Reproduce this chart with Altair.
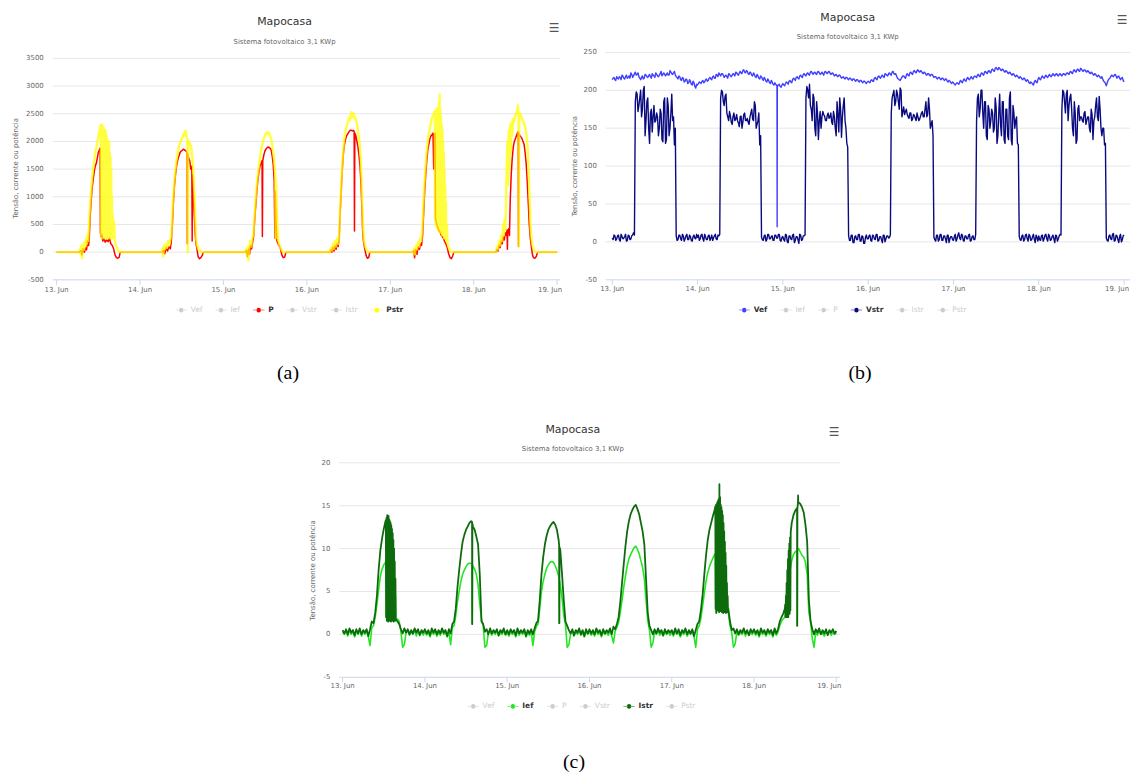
import altair as alt
import pandas as pd

# ---------------------------------------------------------------- text / labels
TITLE = "Mapocasa"
SUBTITLE = "Sistema fotovoltaico 3,1 KWp"
Y_TITLE = "Tensão, corrente ou potência"
CAPTIONS = ["(a)", "(b)", "(c)"]
SERIES_NAMES = ["Vef", "Ief", "P", "Vstr", "Istr", "Pstr"]
TICK_HOURS = [0, 24, 48, 72, 96, 120, 144]
TICK_LABELS = ["13. Jun", "14. Jun", "15. Jun", "16. Jun", "17. Jun", "18. Jun", "19. Jun"]
HALF_HOURS = [i * 0.5 for i in range(48)]
QUARTER_HOURS = [i * 0.5 + 0.25 for i in range(48)]

Y_TICKS_A = [-500, 0, 500, 1000, 1500, 2000, 2500, 3000, 3500]
Y_TICKS_B = [-50, 0, 50, 100, 150, 200, 250]
Y_TICKS_C = [-5, 0, 5, 10, 15, 20]

# ---------------------------------------------------------------- panel (a): P and Pstr, (hour of day, W), one list per day 13..18 Jun
P_DAYS = [
    [(0, 0), (6.5, 0), (7.0, 30), (7.3, -50), (7.6, 60), (8.0, 0), (8.3, 80), (8.6, 40), (8.9, 200), (9.2, 120),
     (9.4, 270), (9.6, 600), (9.9, 900), (10.2, 1150), (10.5, 1300), (10.8, 1450), (11.1, 1550), (11.4, 1600),
     (11.7, 1700), (12.0, 1800), (12.3, 1850), (12.5, 1880), (12.6, 350), (12.8, 280), (13.0, 320), (13.3, 200),
     (13.6, 250), (14.0, 180), (14.4, 220), (14.8, 190), (15.2, 250), (15.6, 150), (16.0, 120), (16.4, 60),
     (16.8, -50), (17.2, -100), (17.6, -110), (18.0, -90), (18.3, 0)],
    [(6.5, 0), (6.8, 40), (7.1, -30), (7.5, 80), (7.9, 20), (8.3, 100), (8.7, 60), (9.0, 200), (9.3, 500),
     (9.6, 900), (9.9, 1200), (10.2, 1400), (10.5, 1550), (10.8, 1650), (11.1, 1720), (11.4, 1780), (11.7, 1820),
     (12.0, 1830), (12.3, 1850), (12.6, 1860), (12.9, 1840), (13.2, 1830), (13.5, 1800), (13.6, 150), (13.7, 1780),
     (14.0, 1700), (14.3, 1650), (14.6, 1500), (14.9, 1550), (15.0, 200), (15.1, 1400), (15.3, 1100), (15.6, 700),
     (15.9, 300), (16.1, 150), (16.4, 50), (16.7, -80), (17.1, -120), (17.5, -100), (17.9, -60), (18.2, 0)],
    [(6.3, 0), (6.6, 30), (6.9, -80), (7.2, 50), (7.5, -40), (7.8, 120), (8.1, 60), (8.4, 180), (8.7, 300),
     (9.0, 600), (9.3, 850), (9.6, 1100), (9.9, 1300), (10.2, 1450), (10.5, 1550), (10.8, 1600), (11.1, 1650),
     (11.2, 280), (11.3, 1650), (11.6, 1750), (11.9, 1820), (12.2, 1860), (12.5, 1880), (12.8, 1900), (13.1, 1890),
     (13.4, 1880), (13.7, 1850), (14.0, 1750), (14.3, 1600), (14.6, 1300), (14.8, 250), (14.9, 1100), (15.1, 600),
     (15.4, 200), (15.7, 150), (16.0, 120), (16.4, 60), (16.8, -50), (17.2, -100), (17.6, -90), (18.0, 0)],
    [(6.6, 0), (6.9, 40), (7.2, 0), (7.5, 90), (7.8, 20), (8.1, 120), (8.4, 50), (8.7, 150), (9.0, 100),
     (9.3, 250), (9.5, 600), (9.8, 1000), (10.1, 1400), (10.4, 1700), (10.7, 1900), (11.0, 2000), (11.3, 2080),
     (11.6, 2120), (11.9, 2150), (12.2, 2180), (12.5, 2200), (12.8, 2200), (13.1, 2190), (13.4, 2200), (13.6, 2180),
     (13.7, 380), (13.8, 2150), (14.1, 2100), (14.4, 2000), (14.7, 1900), (15.0, 1750), (15.3, 1550), (15.6, 1200),
     (15.9, 700), (16.1, 300), (16.4, 150), (16.7, 50), (17.0, -50), (17.4, -110), (17.8, -100), (18.1, 0)],
    [(6.5, 0), (6.8, 30), (7.0, -100), (7.3, 50), (7.7, -40), (8.0, 100), (8.4, 50), (8.7, 150), (9.0, 120),
     (9.3, 300), (9.6, 700), (9.9, 1100), (10.2, 1400), (10.5, 1650), (10.8, 1850), (11.1, 1950), (11.4, 2050),
     (11.7, 2100), (12.0, 2120), (12.3, 2150), (12.5, 1500), (12.6, 2100), (12.9, 2150), (13.0, 600), (13.2, 550),
     (13.5, 480), (13.8, 420), (14.1, 380), (14.4, 350), (14.7, 300), (15.0, 280), (15.3, 250), (15.6, 200),
     (16.0, 150), (16.4, 80), (16.8, -30), (17.2, -100), (17.6, -120), (18.0, -60), (18.3, 0)],
    [(6.4, 0), (6.7, 50), (7.0, 20), (7.3, 120), (7.6, 80), (7.9, 200), (8.2, 150), (8.5, 280), (8.8, 220),
     (9.1, 350), (9.4, 300), (9.6, 400), (9.7, 50), (9.8, 380), (10.1, 420), (10.3, 300), (10.5, 900), (10.8, 1400),
     (11.1, 1700), (11.4, 1900), (11.7, 2000), (12.0, 2050), (12.3, 2100), (12.6, 2150), (12.8, 2180), (12.9, 100),
     (13.0, 2150), (13.3, 2100), (13.6, 2080), (13.9, 2050), (14.2, 2000), (14.5, 1950), (14.8, 1800), (15.1, 1600),
     (15.4, 1300), (15.7, 900), (16.0, 500), (16.3, 250), (16.6, 100), (16.9, -40), (17.2, -100), (17.6, -110),
     (18.0, -80), (18.4, 0)],
]
P_END = 0

PSTR_DAYS = [
    [(0, 0), (6.5, 0), (6.7, 60), (6.9, -40), (7.1, 120), (7.3, -110), (7.5, 80), (7.7, 150), (7.9, 40), (8.1, 180),
     (8.3, 100), (8.5, 250), (8.7, 150), (8.9, 320), (9.1, 200), (9.3, 450), (9.5, 700), (9.8, 1000), (10.1, 1250),
     (10.4, 1450), (10.7, 1600), (11.0, 1750), (11.3, 1850), (11.6, 1950), (11.9, 2050), (12.2, 2150), (12.5, 2250),
     (12.7, 2300), (12.8, 300), (12.9, 2250), (13.0, 400), (13.1, 2300), (13.2, 250), (13.3, 2200), (13.4, 350),
     (13.5, 2250), (13.6, 300), (13.7, 2150), (13.8, 250), (13.9, 2100), (14.0, 400), (14.1, 2200), (14.2, 300),
     (14.3, 2100), (14.4, 250), (14.5, 2050), (14.6, 350), (14.7, 2000), (14.8, 300), (14.9, 1950), (15.0, 250),
     (15.1, 2000), (15.2, 400), (15.3, 1800), (15.4, 300), (15.5, 1700), (15.6, 250), (15.7, 1500), (15.8, 300),
     (15.9, 1000), (16.0, 250), (16.1, 700), (16.3, 300), (16.5, 550), (16.7, 250), (16.9, 150), (17.2, 100),
     (17.5, 50), (17.8, 20), (18.2, 0)],
    [(6.3, 0), (6.5, 60), (6.7, -80), (6.9, 120), (7.2, 50), (7.5, 150), (7.8, 80), (8.1, 200), (8.4, 120),
     (8.7, 220), (9.0, 300), (9.3, 700), (9.6, 1050), (9.9, 1300), (10.2, 1500), (10.5, 1650), (10.8, 1780),
     (11.1, 1880), (11.4, 1950), (11.7, 2000), (12.0, 2050), (12.3, 2080), (12.6, 2150), (12.9, 2100), (13.1, 2200),
     (13.4, 2080), (13.6, 2050), (13.75, 0), (13.85, 1980), (14.1, 2000), (14.4, 1950), (14.7, 1900), (15.0, 1750),
     (15.3, 1500), (15.6, 1100), (15.9, 600), (16.1, 250), (16.4, 120), (16.8, 50), (17.2, 30), (17.6, 0)],
    [(6.3, 0), (6.5, 50), (6.8, -60), (7.0, 100), (7.2, -150), (7.4, 80), (7.7, 200), (8.0, 100), (8.3, 250),
     (8.6, 300), (8.9, 600), (9.2, 900), (9.5, 1150), (9.8, 1350), (10.1, 1500), (10.4, 1650), (10.7, 1800),
     (11.0, 1900), (11.3, 1980), (11.6, 2050), (11.9, 2100), (12.2, 2150), (12.5, 2130), (12.8, 2170), (13.1, 2150),
     (13.4, 2100), (13.7, 2050), (14.0, 1950), (14.3, 1800), (14.6, 1650), (14.9, 1400), (15.0, 250), (15.1, 1300),
     (15.3, 900), (15.5, 500), (15.7, 250), (16.0, 150), (16.4, 80), (16.8, 30), (17.2, 0)],
    [(6.6, 0), (6.9, 80), (7.2, 30), (7.5, 150), (7.8, 60), (8.1, 200), (8.4, 100), (8.7, 250), (9.0, 150),
     (9.3, 300), (9.5, 700), (9.8, 1100), (10.1, 1500), (10.4, 1800), (10.7, 2000), (11.0, 2150), (11.3, 2250),
     (11.6, 2300), (11.9, 2380), (12.2, 2420), (12.4, 2380), (12.5, 2470), (12.7, 2420), (12.8, 2530), (13.0, 2450),
     (13.1, 2500), (13.3, 2440), (13.4, 2510), (13.6, 2430), (13.7, 2460), (14.0, 2400), (14.3, 2350), (14.6, 2250),
     (14.9, 2100), (15.2, 1950), (15.5, 1700), (15.8, 1200), (16.1, 600), (16.3, 300), (16.6, 150), (16.9, 80),
     (17.3, 30), (17.7, 0)],
    [(6.5, 0), (6.8, 60), (7.1, -40), (7.4, 120), (7.7, 50), (8.0, 180), (8.3, 100), (8.6, 250), (8.9, 200),
     (9.2, 400), (9.5, 800), (9.8, 1200), (10.1, 1500), (10.4, 1750), (10.7, 1950), (11.0, 2100), (11.3, 2200),
     (11.6, 2300), (11.9, 2400), (12.2, 2450), (12.5, 2500), (12.8, 2550), (12.9, 600), (13.0, 2500), (13.1, 500),
     (13.2, 2550), (13.3, 450), (13.4, 2600), (13.5, 500), (13.6, 2450), (13.7, 400), (13.8, 2500), (13.9, 450),
     (14.0, 2700), (14.1, 400), (14.2, 2850), (14.3, 350), (14.4, 2600), (14.5, 400), (14.6, 2450), (14.7, 350),
     (14.8, 2300), (14.9, 300), (15.0, 2200), (15.1, 350), (15.2, 2000), (15.3, 300), (15.4, 1800), (15.5, 250),
     (15.6, 1500), (15.7, 300), (15.8, 1200), (15.9, 250), (16.0, 900), (16.1, 200), (16.3, 500), (16.5, 150),
     (16.8, 80), (17.2, 30), (17.6, 0)],
    [(6.4, 0), (6.7, 100), (7.0, 50), (7.3, 200), (7.6, 120), (7.9, 300), (8.2, 200), (8.5, 500), (8.7, 300),
     (8.9, 600), (9.1, 400), (9.3, 900), (9.5, 1500), (9.7, 2000), (9.9, 1200), (10.1, 2200), (10.3, 1500),
     (10.5, 2300), (10.7, 1800), (10.9, 2350), (11.1, 2100), (11.3, 2400), (11.6, 2350), (11.9, 2450), (12.2, 2500),
     (12.5, 2550), (12.7, 2650), (12.9, 2500), (13.0, 100), (13.1, 2450), (13.4, 2500), (13.7, 2450), (14.0, 2400),
     (14.3, 2350), (14.6, 2300), (14.9, 2250), (15.2, 2100), (15.5, 1900), (15.8, 1500), (16.1, 900), (16.4, 400),
     (16.7, 200), (17.0, 100), (17.4, 30), (17.8, 0)],
]
PSTR_END = 0

# ---------------------------------------------------------------- panel (b): Vef and Vstr, V, readings on the half hour (:00/:30) and quarter (:15/:45)
VEF_DAYS = [
    [214, 217, 213, 216, 218, 214, 219, 215, 220, 217, 216, 221, 219, 224, 221, 218, 214, 219, 216, 220,
     217, 221, 216, 220, 217, 221, 218, 222, 219, 223, 219, 223, 220, 224, 221, 225, 218, 215, 218, 213,
     216, 212, 214, 210, 212, 207, 210, 203],
    [207, 211, 209, 213, 211, 215, 213, 217, 214, 219, 216, 220, 223, 219, 222, 217, 220, 216, 221, 218,
     222, 219, 223, 220, 225, 222, 227, 223, 225, 221, 223, 219, 221, 217, 219, 215, 218, 213, 215, 211,
     213, 209, 211, 207, 208, 205, 208, 204],
    [209, 206, 211, 208, 213, 210, 216, 213, 218, 215, 220, 217, 222, 219, 223, 220, 225, 221, 224, 221,
     225, 221, 224, 220, 225, 222, 225, 221, 223, 219, 221, 218, 220, 216, 218, 215, 217, 214, 216, 213,
     215, 212, 214, 211, 213, 210, 212, 209],
    [212, 210, 214, 212, 217, 214, 219, 216, 220, 217, 221, 219, 223, 220, 225, 221, 219, 215, 213, 217,
     219, 216, 222, 219, 224, 221, 226, 223, 227, 224, 225, 222, 223, 220, 222, 219, 221, 217, 218, 215,
     217, 214, 216, 213, 215, 211, 212, 209],
    [210, 207, 210, 208, 213, 210, 215, 212, 217, 214, 218, 215, 219, 217, 221, 218, 223, 220, 225, 222,
     226, 223, 228, 225, 230, 227, 229, 226, 227, 224, 225, 222, 223, 220, 221, 218, 219, 216, 217, 214,
     216, 212, 213, 209, 210, 207, 213, 210],
    [217, 214, 219, 216, 220, 217, 221, 218, 222, 219, 222, 219, 222, 219, 222, 220, 223, 221, 225, 222,
     227, 224, 228, 225, 228, 225, 227, 224, 225, 222, 223, 220, 221, 218, 219, 216, 215, 211, 206, 213,
     216, 220, 218, 221, 216, 219, 214, 217],
]
VEF_QUARTERS = [
    [216, 214, 218, 215, 217, 220, 216, 218, 216, 219, 223, 217, 222, 220, 223, 216, 217, 215, 221, 218,
     219, 218, 222, 219, 223, 219, 220, 225, 221, 221, 221, 220, 226, 222, 223, 220, 217, 219, 214, 217,
     211, 215, 209, 214, 208, 212, 205, 208],
    [209, 210, 212, 210, 214, 212, 216, 215, 218, 216, 221, 218, 221, 222, 220, 219, 218, 222, 219, 220,
     221, 224, 221, 223, 223, 226, 224, 226, 222, 224, 220, 223, 218, 221, 216, 219, 215, 217, 212, 215,
     210, 213, 208, 210, 206, 207, 205, 207],
    [207, 209, 210, 212, 211, 214, 215, 217, 216, 219, 218, 221, 220, 222, 221, 224, 223, 223, 222, 224,
     223, 222, 222, 224, 223, 224, 223, 222, 221, 220, 219, 220, 218, 217, 216, 217, 215, 216, 214, 215,
     213, 214, 212, 213, 211, 212, 210, 211],
    [211, 213, 212, 216, 215, 218, 217, 219, 218, 222, 220, 222, 221, 224, 222, 222, 216, 214, 215, 219,
     217, 220, 220, 223, 222, 225, 224, 226, 225, 226, 223, 224, 221, 222, 220, 221, 219, 218, 216, 217,
     215, 216, 214, 215, 212, 213, 210, 211],
    [208, 209, 209, 211, 211, 213, 213, 215, 215, 216, 216, 218, 218, 220, 219, 222, 221, 224, 223, 225,
     224, 227, 226, 229, 228, 230, 227, 228, 225, 226, 223, 224, 221, 222, 219, 220, 217, 218, 215, 216,
     213, 214, 210, 211, 208, 211, 211, 214],
    [215, 217, 217, 218, 218, 219, 219, 220, 220, 221, 220, 221, 220, 221, 221, 222, 222, 224, 223, 226,
     225, 227, 226, 229, 226, 227, 225, 226, 223, 224, 221, 222, 219, 220, 217, 218, 212, 209, 210, 215,
     218, 219, 220, 219, 218, 216, 216, 213],
]
VEF_DETAIL = {1: [[(22.35, 207), (22.4, 20), (22.45, 206)]]}
VEF_END = 211

VSTR_DAYS = [
    [5, 9, 2, 8, 3, 10, 4, 7, 1, 9, 3, 8, 12, 185, 195, 180, 200, 175, 205, 160,
     190, 130, 175, 165, 158, 170, 140, 175, 135, 185, 130, 190, 140, 170, 160, 128, 8, 3, 9, 2,
     8, 4, 10, 3, 7, 1, 9, 4],
    [6, 2, 9, 4, 10, 3, 8, 2, 9, 5, 10, 3, 8, 190, 198, 180, 195, 165, 172, 158,
     166, 160, 168, 157, 165, 150, 168, 160, 163, 155, 170, 162, 185, 150, 160, 128, 6, 2, 9, 3,
     10, 4, 8, 2, 9, 5, 10, 1],
    [7, 1, 9, -1, 8, 3, 10, 2, 7, -2, 9, 3, 8, 190, 200, 208, 175, 195, 150, 185,
     135, 172, 165, 168, 160, 167, 163, 170, 155, 165, 140, 168, 190, 138, 180, 160, 130, 8, 2, 9,
     -1, 8, 3, 10, 1, 7, -2, 9],
    [4, 9, 1, 8, 3, 10, 2, 7, -1, 9, 4, 8, 6, 170, 195, 180, 200, 185, 203, 165,
     178, 172, 168, 163, 170, 162, 167, 160, 165, 162, 170, 165, 175, 165, 190, 150, 160, 6, 1, 9,
     3, 10, 2, 8, -1, 9, 4, 7],
    [2, 10, 4, 12, 3, 9, 1, 8, 4, 10, 2, 8, 3, 160, 195, 175, 200, 150, 185, 135,
     175, 160, 170, 150, 178, 140, 195, 140, 185, 130, 175, 135, 198, 128, 170, 160, 130, 7, 2, 9,
     3, 10, 1, 8, 3, 10, -1, 6],
    [8, 2, 9, 4, 10, 1, 8, 3, 9, -1, 8, 4, 10, 175, 198, 170, 200, 180, 195, 150,
     185, 130, 175, 160, 165, 158, 172, 160, 165, 145, 168, 160, 180, 165, 192, 150, 150, 128, 5, 1,
     9, 3, 11, 2, 8, -1, 10, 3],
]
VSTR_QUARTERS = [
    [3, 8, 4, 9, 1, 7, 5, 10, 2, 8, 4, 9, 9, 198, 172, 190, 165, 200, 140, 185,
     150, 170, 145, 180, 160, 165, 150, 170, 132, 190, 135, 180, 150, 195, 165, 150, 2, 9, 4, 10,
     1, 8, 3, 9, 2, 7, 5, 10],
    [9, 4, 10, 1, 7, 3, 9, 5, 2, 8, 4, 9, 10, 200, 185, 192, 170, 160, 166, 155,
     170, 162, 160, 152, 166, 158, 170, 160, 158, 165, 175, 160, 180, 155, 170, 140, 3, 8, 1, 10,
     4, 7, 2, 9, 5, 10, 2, 6],
    [3, 10, 0, 8, 4, 9, -1, 7, 3, 10, 2, 8, 9, 205, 190, 180, 160, 190, 140, 170,
     160, 150, 172, 166, 160, 170, 165, 158, 172, 150, 185, 145, 175, 165, 190, 150, 125, 2, 9, -1,
     7, 3, 10, 1, 8, -2, 6, 4],
    [8, 2, 9, 4, 10, 1, 7, 3, 9, 0, 8, 5, 9, 190, 200, 185, 195, 175, 200, 172,
     168, 175, 165, 170, 160, 168, 163, 170, 160, 166, 172, 165, 185, 168, 175, 155, 140, 3, 9, 1,
     10, 2, 8, 4, 9, -1, 7, 3],
    [7, 1, 9, 5, 10, 2, 8, 4, 9, 1, 7, 3, 10, 190, 165, 200, 170, 185, 140, 180,
     150, 175, 145, 190, 130, 170, 155, 185, 135, 175, 140, 190, 135, 180, 150, 165, 128, 3, 8, 1,
     9, 4, 10, 2, 7, 3, 9, 1],
    [3, 8, 1, 9, 4, 10, 2, 7, 4, 9, 1, 8, 9, 200, 185, 195, 160, 190, 175, 140,
     170, 135, 180, 165, 160, 170, 155, 165, 150, 175, 135, 165, 190, 160, 175, 140, 150, 130, 2, 8,
     4, 10, 1, 9, 3, 7, 0, 8],
]
VSTR_END = 9

# ---------------------------------------------------------------- panel (c): Ief and Istr, A, half-hour readings + detailed stretches
IEF_DAYS = [
    [0.3, 0.0, 0.4, -0.2, 0.5, 0.0, 0.3, -0.3, 0.4, 0.0, 0.5, -0.2, 0.3, 0.0, 0.4, -0.3, -1.3, 0.8, 1.0, 2.0,
     3.5, 5.2, 6.8, 7.6, 8.1, 8.4, 8.5, 8.3, 8.0, 7.5, 6.5, 2.0, 1.8, 1.5, 0.3, -1.5, -1.2, 0.2, 0.4, -0.1,
     0.3, 0.0, 0.5, -0.2, 0.4, 0.0, 0.3, -0.1],
    [0.3, -0.1, 0.2, -0.3, 0.4, 0.0, 0.3, -0.2, 0.2, -0.1, 0.4, 0.0, 0.2, -0.3, 0.3, -1.2, 0.8, 1.0, 2.2, 3.8,
     5.0, 6.2, 7.0, 7.5, 7.9, 8.2, 8.3, 8.3, 8.0, 7.6, 7.0, 5.8, 3.5, 1.8, 1.0, -1.5, -1.3, 0.2, 0.3, -0.1,
     0.3, 0.0, 0.4, -0.2, 0.2, 0.0, 0.4, -0.1],
    [0.2, -0.2, 0.3, 0.0, 0.2, -0.3, 0.4, -0.1, 0.3, 0.0, 0.3, -0.3, 0.2, -0.1, 0.3, -1.3, 0.3, 0.9, 1.2, 3.0,
     5.0, 6.2, 7.0, 7.7, 8.1, 8.4, 8.5, 8.4, 8.0, 7.5, 6.8, 5.8, 4.2, 2.2, 1.2, -1.5, -1.2, 0.1, 0.3, -0.2,
     0.3, 0.0, 0.4, -0.1, 0.2, -0.3, 0.3, 0.0],
    [0.3, -0.1, 0.2, -0.2, 0.4, 0.0, 0.2, -0.3, 0.3, 0.0, 0.2, -0.1, 0.4, -0.2, -1.0, 0.4, 0.8, 1.4, 2.6, 4.0,
     5.5, 6.8, 8.0, 8.8, 9.3, 9.7, 10.1, 10.3, 9.9, 9.4, 8.6, 7.8, 6.5, 4.0, 1.6, 0.5, -1.5, -1.0, 0.3, 0.0,
     0.4, -0.1, 0.2, -0.2, 0.3, 0.0, 0.2, -0.1],
    [0.2, -0.2, 0.4, 0.0, 0.3, -0.3, 0.2, 0.0, 0.4, -0.2, 0.2, 0.0, 0.3, -0.3, -1.5, 0.6, 1.0, 1.9, 3.3, 4.8,
     6.2, 7.2, 7.9, 8.4, 8.9, 9.3, 9.5, 9.6, 9.3, 9.0, 8.3, 6.8, 4.5, 2.5, 1.0, 0.2, -1.5, -1.1, 0.3, -0.1,
     0.2, 0.0, 0.4, -0.2, 0.3, -0.1, 0.2, 0.0],
    [0.3, -0.1, 0.2, -0.3, 0.4, 0.0, 0.2, -0.2, 0.3, 0.0, 0.2, -0.3, 0.4, -0.1, 0.3, 1.0, 1.5, 1.8, 2.0, 4.0,
     6.0, 7.5, 8.6, 9.3, 9.6, 9.8, 10.0, 9.6, 9.2, 9.0, 8.4, 7.0, 2.5, 1.5, -0.5, -1.5, 0.3, -0.1, 0.4, 0.0,
     0.2, -0.2, 0.3, 0.0, 0.4, -0.1, 0.2, 0.0],
]
IEF_DETAIL = {
    0: [[(12.6, 8.4), (12.7, 2), (12.8, 8.5), (12.9, 1.6), (13.0, 8.6), (13.1, 2.2), (13.2, 8.5), (13.3, 1.5),
         (13.4, 8.4), (13.5, 3), (13.6, 8.3), (13.7, 1.6), (13.8, 8.2), (13.9, 2), (14.0, 8.0), (14.1, 1.5),
         (14.2, 7.8), (14.3, 2.5), (14.4, 7.6), (14.5, 1.6), (14.6, 7.3), (14.7, 2), (14.8, 7), (14.9, 1.5),
         (15.0, 6.5), (15.1, 2), (15.2, 5.5), (15.3, 1.6), (15.4, 4.5), (15.5, 1.8)]],
    1: [[(13.75, 8.3), (13.8, 1.2), (13.85, 8.1)]],
    2: [[(15.15, 6.4), (15.2, 1.3), (15.25, 6.3)]],
    4: [[(12.7, 9.4), (12.8, 3), (12.9, 9.5), (13.0, 2.5), (13.1, 9.5), (13.2, 3.5), (13.3, 9.6), (13.4, 2.8),
         (13.5, 9.7), (13.6, 3.2), (13.7, 9.6), (13.8, 2.6), (13.9, 9.5), (14.0, 3), (14.1, 9.4), (14.2, 2.7),
         (14.3, 9.2), (14.4, 3.3), (14.5, 9.0), (14.6, 2.6), (14.7, 8.8), (14.8, 3), (14.9, 8.5), (15.0, 2.5),
         (15.1, 8.0), (15.2, 3.2), (15.3, 7.4), (15.4, 2.6), (15.5, 6.8), (15.6, 3), (15.7, 5.9), (15.8, 2.5),
         (15.9, 5.0), (16.0, 3), (16.1, 3.8), (16.2, 2.6), (16.3, 3.0), (16.4, 2.5)]],
    5: [[(12.55, 9.7), (12.6, 1.0), (12.65, 9.8)]],
}
IEF_END = 0.2

ISTR_DAYS = [
    [0.5, 0.1, 0.6, 0.0, 0.7, 0.2, 0.5, -0.1, 0.6, 0.1, 0.7, 0.0, 0.5, 0.2, 0.6, -0.2, 0.6, 1.5, 1.3, 2.5,
     4.5, 7.5, 9.8, 11.2, 12.3, 13.2, 13.8, 13.5, 13, 12, 10, 1.8, 1.5, 1.2, 0.6, 0.1, 0.7, 0.2, 0.6, 0.0,
     0.5, 0.1, 0.7, 0.2, 0.6, -0.1, 0.5, 0.2],
    [0.6, 0.1, 0.5, -0.1, 0.7, 0.2, 0.6, 0.0, 0.5, 0.1, 0.7, 0.2, 0.5, -0.2, 0.6, 0.1, 1.2, 1.5, 3.0, 5.5,
     7.5, 9.3, 10.8, 11.6, 12.2, 12.6, 13.0, 13.2, 12.6, 12.2, 11.4, 10.5, 7, 1.5, 1.2, 0.3, 0.6, 0.0, 0.7, 0.1,
     0.5, 0.2, 0.6, -0.1, 0.5, 0.2, 0.7, 0.0],
    [0.5, 0.0, 0.6, 0.2, 0.5, -0.1, 0.7, 0.1, 0.5, 0.2, 0.6, -0.2, 0.5, 0.1, 0.6, 0.0, 0.7, 1.3, 1.6, 4.0,
     7.0, 9.0, 10.5, 11.5, 12.2, 12.6, 12.9, 13.1, 12.8, 12.2, 11.0, 9.8, 7.0, 4.0, 1.5, 1.0, 0.5, 0.1, 0.6, -0.1,
     0.5, 0.2, 0.7, 0.0, 0.5, -0.2, 0.6, 0.1],
    [0.6, 0.1, 0.5, 0.0, 0.7, 0.2, 0.5, -0.1, 0.6, 0.1, 0.5, 0.2, 0.7, 0.0, 0.9, 0.6, 1.2, 2.0, 3.8, 6.0,
     8.2, 10.3, 12.0, 13.2, 14.0, 14.5, 14.9, 15.1, 14.6, 14.0, 13.0, 12.0, 10.5, 6.5, 2.5, 1.0, 0.5, 0.0, 0.6, 0.1,
     0.7, 0.2, 0.5, -0.1, 0.6, 0.1, 0.5, 0.2],
    [0.5, 0.0, 0.7, 0.1, 0.6, -0.1, 0.5, 0.2, 0.7, 0.0, 0.5, 0.1, 0.6, -0.2, 0.5, 1.2, 1.5, 2.8, 4.6, 7.0,
     9.2, 11.0, 12.2, 13.0, 13.8, 14.5, 15.0, 15.5, 15.2, 14.6, 13.5, 11.0, 7.0, 3.0, 1.5, 0.5, 0.7, 0.1, 0.6, 0.0,
     0.5, 0.2, 0.7, 0.1, 0.5, -0.1, 0.6, 0.2],
    [0.6, 0.1, 0.5, -0.1, 0.7, 0.2, 0.5, 0.0, 0.6, 0.2, 0.5, -0.1, 0.7, 0.1, 0.6, 1.5, 2.0, 2.4, 3.0, 6.0,
     9.5, 11.5, 13.0, 13.9, 14.4, 14.7, 15.4, 15.2, 14.8, 14.2, 12.8, 10.8, 4.0, 1.5, 0.6, 0.0, 0.6, 0.2, 0.7, 0.0,
     0.5, 0.1, 0.6, -0.1, 0.5, 0.2, 0.6, 0.1],
]
ISTR_DETAIL = {
    0: [[(12.6, 13.3), (12.7, 2), (12.8, 13.6), (12.9, 1.6), (13.0, 13.9), (13.1, 2.2), (13.2, 13.7), (13.3, 1.5),
         (13.4, 13.8), (13.5, 3), (13.6, 13.4), (13.7, 1.6), (13.8, 13.2), (13.9, 2), (14.0, 13.0), (14.1, 1.5),
         (14.2, 12.7), (14.3, 2.5), (14.4, 12.3), (14.5, 1.6), (14.6, 11.8), (14.7, 2), (14.8, 11), (14.9, 1.5),
         (15.0, 10), (15.1, 2), (15.2, 8.5), (15.3, 1.6), (15.4, 6.5), (15.5, 1.8)]],
    1: [[(13.75, 13.1), (13.8, 1.2), (13.85, 12.9)]],
    2: [[(15.15, 10.4), (15.2, 1.3), (15.25, 10.2)]],
    4: [[(12.7, 14.9), (12.8, 3), (12.9, 15.1), (13.0, 2.5), (13.1, 15.2), (13.2, 3.5), (13.3, 15.4), (13.4, 2.8),
         (13.5, 15.6), (13.6, 3.2), (13.7, 15.8), (13.8, 2.6), (13.9, 17.5), (14.0, 3), (14.1, 16.0), (14.2, 2.7),
         (14.3, 15.1), (14.4, 3.3), (14.5, 14.8), (14.6, 2.6), (14.7, 14.4), (14.8, 3), (14.9, 13.9), (15.0, 2.5),
         (15.1, 13.0), (15.2, 3.2), (15.3, 12.0), (15.4, 2.6), (15.5, 10.8), (15.6, 3), (15.7, 9.5), (15.8, 2.5),
         (15.9, 8.0), (16.0, 3), (16.1, 6.0), (16.2, 2.6), (16.3, 4.5), (16.4, 3)]],
    5: [[(9.1, 3.5), (9.2, 2), (9.3, 4.5), (9.4, 2.2), (9.5, 6), (9.6, 2), (9.7, 7.5), (9.8, 2.5), (9.9, 8.8),
         (10.0, 2), (10.1, 9.8), (10.2, 3), (10.3, 10.6), (10.4, 2.4), (10.5, 11.3), (10.6, 2.8), (10.7, 11.9)],
        [(12.55, 14.6), (12.6, 1.0), (12.65, 14.7)],
        [(12.8, 15.2), (12.85, 16.2), (12.9, 15.3)]],
}
ISTR_END = 0.4

# ---------------------------------------------------------------- helpers
FONT = "DejaVu Sans"
# legend symbol: short line with a round marker (drawn so that it reads the same filled or stroked)
SYMBOL = ("M-1,-0.05L1,-0.05L1,0.05L-1,0.05Z "
          "M-0.42,0A0.42,0.42 0 1 0 0.42,0A0.42,0.42 0 1 0 -0.42,0Z "
          "M-0.28,0A0.28,0.28 0 1 0 0.28,0A0.28,0.28 0 1 0 -0.28,0Z "
          "M-0.14,0A0.14,0.14 0 1 0 0.14,0A0.14,0.14 0 1 0 -0.14,0Z")


def pairs_frame(days, end_value):
    rows = []
    for d, pts in enumerate(days):
        rows += [(24 * d + h, v) for h, v in pts]
    rows.append((144, end_value))
    return pd.DataFrame(rows, columns=["t", "v"])


def grid_frame(days, end_value, details=None, quarters=None):
    rows = []
    details = details or {}
    for d, vals in enumerate(days):
        segs = details.get(d, [])
        pts = list(zip(HALF_HOURS, vals))
        if quarters:
            pts += list(zip(QUARTER_HOURS, quarters[d]))
        for h, v in pts:
            if any(s[0][0] <= h <= s[-1][0] for s in segs):
                continue
            rows.append((24 * d + h, v))
        for s in segs:
            rows += [(24 * d + h, v) for h, v in s]
    rows.append((144, end_value))
    return pd.DataFrame(rows, columns=["t", "v"]).sort_values("t").reset_index(drop=True)


def text_at(txt, x, y, size, color, weight="normal", font=FONT, angle=0):
    return alt.Chart(pd.DataFrame({"txt": [txt]})).mark_text(
        fontSize=size, color=color, fontWeight=weight, font=font, angle=angle,
        align="center", baseline="middle"
    ).encode(text="txt:N", x=alt.value(x), y=alt.value(y))


def panel(spec):
    xs = alt.Scale(domain=spec["xdom"], range=spec["xrange"], nice=False, zero=False)
    yt = spec["yticks"]
    ys = alt.Scale(domain=[yt[0], yt[-1]], range=spec["yrange"], nice=False, zero=False)
    h0, h1 = spec["xdom"]
    ymin = yt[0]

    def X(f):
        return alt.X(f, type="quantitative", scale=xs, axis=None)

    def Y(f):
        return alt.Y(f, type="quantitative", scale=ys, axis=None)

    def XD(v):
        return alt.XDatum(v, type="quantitative", scale=xs, axis=None)

    def YD(v):
        return alt.YDatum(v, type="quantitative", scale=ys, axis=None)

    layers = []
    layers.append(alt.Chart(pd.DataFrame({"g": yt[1:]})).mark_rule(color="#e6e6e6", strokeWidth=1).encode(
        x=XD(h0), x2=alt.X2Datum(h1), y=Y("g")))
    layers.append(alt.Chart(pd.DataFrame({"g": [ymin]})).mark_rule(color="#ccd6eb", strokeWidth=1).encode(
        x=XD(h0), x2=alt.X2Datum(h1), y=Y("g")))
    layers.append(alt.Chart(pd.DataFrame({"t": TICK_HOURS})).mark_rule(
        color="#ccd6eb", strokeWidth=1, y2Offset=5).encode(x=X("t"), y=YD(ymin), y2=alt.Y2Datum(ymin)))
    xl = pd.DataFrame({"t": TICK_HOURS, "lab": TICK_LABELS})
    layers.append(alt.Chart(xl.iloc[:-1]).mark_text(
        fontSize=7, color="#666666", font=FONT, dy=spec["xlab_dy"], baseline="middle", align="center"
    ).encode(x=X("t"), y=YD(ymin), text="lab:N"))
    layers.append(alt.Chart(xl.iloc[-1:]).mark_text(
        fontSize=7, color="#666666", font=FONT, dy=spec["xlab_dy"], dx=5, baseline="middle", align="right"
    ).encode(x=X("t"), y=YD(ymin), text="lab:N"))
    yl = pd.DataFrame({"g": yt, "lab": [str(v) for v in yt]})
    layers.append(alt.Chart(yl).mark_text(
        fontSize=7, color="#666666", font=FONT, dx=spec["ylab_dx"], baseline="middle", align="right"
    ).encode(x=XD(h0), y=Y("g"), text="lab:N"))

    for df, color, width, opacity in spec["lines"]:
        layers.append(alt.Chart(df).mark_line(color=color, strokeWidth=width, opacity=opacity,
                                              strokeJoin="round").encode(x=X("t"), y=Y("v")))

    active = spec["active"]
    cond = "indexof([" + ",".join("'%s'" % a for a in active) + "], datum.value) >= 0"
    legend = alt.Legend(
        orient="none", legendX=spec["legend"][0], legendY=spec["legend"][1], direction="horizontal",
        columns=6, title=None, symbolType=SYMBOL, symbolSize=130, symbolStrokeWidth=1.1, symbolOpacity=1,
        labelFont=FONT, labelFontSize=7.5, labelOffset=3, columnPadding=12, padding=0, rowPadding=0,
        labelLimit=0,
        labelColor=alt.ExprRef(cond + " ? '#333333' : '#cccccc'"),
        labelFontWeight=alt.ExprRef(cond + " ? 'bold' : 'normal'"),
    )
    layers.append(alt.Chart(pd.DataFrame({"s": SERIES_NAMES})).mark_point(filled=True, opacity=0).encode(
        x=XD(72), y=YD(yt[1]),
        color=alt.Color("s:N", scale=alt.Scale(domain=SERIES_NAMES, range=spec["colors"]), legend=legend)))

    tx, ty = spec["title"]
    layers.append(text_at(TITLE, tx, ty, 11, "#333333"))
    layers.append(text_at(SUBTITLE, tx, spec["subtitle_y"], 7, "#666666"))
    ax, ay = spec["ytitle"]
    layers.append(text_at(Y_TITLE, ax, ay, 7, "#666666", angle=270))
    mx, my = spec["menu"]
    layers.append(text_at("☰", mx, my, 12, "#555555"))
    return alt.layer(*layers)


GREY = "#cccccc"
spec_a = dict(
    xdom=[-1.14, 144.86], xrange=[45, 556], yticks=Y_TICKS_A, yrange=[271, 48],
    xlab_dy=10, ylab_dx=-9,
    lines=[(pairs_frame(P_DAYS, P_END), "#ff0000", 1.5, 1.0),
           (pairs_frame(PSTR_DAYS, PSTR_END), "#ffff00", 2.4, 0.75)],
    active=["P", "Pstr"], colors=[GREY, GREY, "#ff0000", GREY, GREY, "#ffff00"],
    legend=(168, 295), title=(278.5, 11), subtitle_y=32, ytitle=(8.4, 158.7), menu=(550, 17),
)
spec_b = dict(
    xdom=[-1.82, 145.67], xrange=[602, 1130], yticks=Y_TICKS_B, yrange=[271, 42],
    xlab_dy=9, ylab_dx=-9,
    lines=[(grid_frame(VEF_DAYS, VEF_END, VEF_DETAIL, VEF_QUARTERS), "#3f3fff", 1.4, 1.0),
           (grid_frame(VSTR_DAYS, VSTR_END, None, VSTR_QUARTERS), "#0a0a80", 1.4, 1.0)],
    active=["Vef", "Vstr"], colors=["#3f3fff", GREY, GREY, "#0a0a80", GREY, GREY],
    legend=(735, 295), title=(845.7, 7), subtitle_y=26.3, ytitle=(571.3, 156.5), menu=(1122, 9.3),
)
spec_c = dict(
    xdom=[-0.96, 145.1], xrange=[333.7, 838], yticks=Y_TICKS_C, yrange=[671.3, 455.3],
    xlab_dy=9, ylab_dx=-9,
    lines=[(grid_frame(IEF_DAYS, IEF_END, IEF_DETAIL), "#22e622", 1.6, 1.0),
           (grid_frame(ISTR_DAYS, ISTR_END, ISTR_DETAIL), "#0d6b0d", 1.8, 1.0)],
    active=["Ief", "Istr"], colors=[GREY, "#22e622", GREY, GREY, "#0d6b0d", GREY],
    legend=(462, 694), title=(568.8, 422.7), subtitle_y=441.3, ytitle=(307, 563.7), menu=(832, 424.3),
)

captions = [
    text_at(CAPTIONS[0], 282, 365, 20, "#000000", font="Liberation Serif"),
    text_at(CAPTIONS[1], 858, 365, 20, "#000000", font="Liberation Serif"),
    text_at(CAPTIONS[2], 570, 757, 20, "#000000", font="Liberation Serif"),
]

chart = alt.layer(panel(spec_a), panel(spec_b), panel(spec_c), *captions).resolve_scale(
    x="independent", y="independent", color="independent"
).resolve_legend(color="independent").properties(
    width=1133, height=768, padding=0, autosize=alt.AutoSizeParams(type="none"), background="white"
).configure_view(stroke=None)

chart.save("out.html", embed_options={"renderer": "svg", "actions": False})
